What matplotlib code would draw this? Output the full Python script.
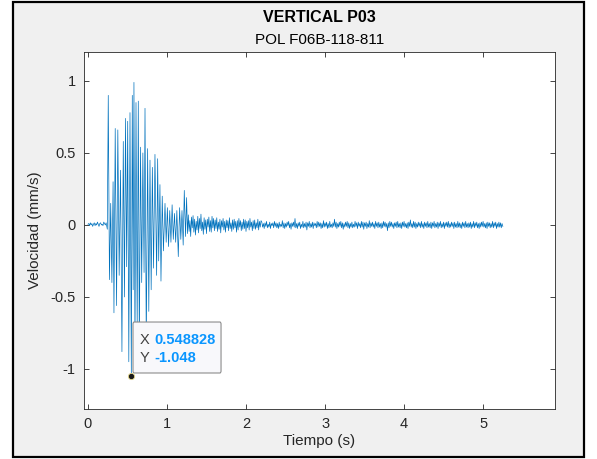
import numpy as np
import matplotlib
matplotlib.use("Agg")
import matplotlib.pyplot as plt
from matplotlib.patches import Rectangle, FancyBboxPatch

plt.rcParams['font.family'] = ['Liberation Sans', 'DejaVu Sans']
plt.rcParams['axes.unicode_minus'] = False

TITLE = "VERTICAL P03"
SUBTITLE = "POL F06B-118-811"
XLABEL = "Tiempo (s)"
YLABEL = "Velocidad (mm/s)"
X_TICKS = [0, 1, 2, 3, 4, 5]
Y_TICKS = [-1, -0.5, 0, 0.5, 1]
Y_TICKLABELS = ["-1", "-0.5", "0", "0.5", "1"]

# pre-event noise, 0 .. 0.23 s (values in 1/1000 mm/s, dt = 0.01 s)
pre_start = 0.0
pre_dt = 0.01
pre_mv = [5, 10, -5, 15, 0, 10, -10, 5, 15, -5, 10, 0, 20, 5, -10, 10,
          15, 0, 5, -5, 20, 10, 0, 15]

# main burst, extrema
burst_t = [0.245, 0.257, 0.272, 0.288, 0.303, 0.318, 0.329, 0.345, 0.362, 0.378,
           0.395, 0.412, 0.430, 0.447, 0.462, 0.475, 0.490, 0.503, 0.517, 0.532,
           0.548828, 0.561, 0.572, 0.582, 0.595, 0.608, 0.623, 0.637, 0.650, 0.665,
           0.680, 0.695, 0.710, 0.722, 0.738, 0.755, 0.770, 0.785, 0.800, 0.815,
           0.830, 0.848, 0.869, 0.882, 0.895, 0.911, 0.924, 0.940, 0.955, 0.975,
           0.990, 1.005, 1.020, 1.035, 1.050, 1.065, 1.080, 1.095, 1.110, 1.125,
           1.143, 1.160, 1.175, 1.190, 1.205, 1.219, 1.235, 1.248]
burst_v = [-0.03, 0.90, -0.38, 0.15, -0.40, 0.30, -0.61, 0.67, -0.56, 0.66,
           -0.35, 0.38, -0.88, 0.58, -0.50, 0.74, -0.29, 0.72, -0.95, 0.78,
           -1.048, 0.90, -0.45, 0.99, -0.89, 0.85, -0.72, 0.86, -0.90, 0.54,
           -0.40, 0.50, -0.33, 0.81, -0.85, 0.53, -0.60, 0.45, -0.45, 0.40,
           -0.30, 0.49, -0.35, 0.46, -0.25, 0.28, -0.39, 0.20, -0.18, 0.15,
           -0.12, 0.12, -0.15, 0.10, -0.12, 0.14, -0.10, 0.08, -0.12, 0.10,
           -0.22, 0.12, -0.10, 0.10, -0.14, 0.24, -0.08, 0.19]

# coda, 1.26 s onwards (1/1000 mm/s, dt = 0.01 s)
tail_start = 1.26
tail_dt = 0.01
coda_a = [-60, 70, -45, 30, -80, 55, -20, 65, -50, 40, -70, 25, -35, 60, -55, 45,
          -25, 75, -40, 20, -65, 50, -30, 35, -60, 40, -15, 55, -45, 30, -50, 60,
          -20, 45]
coda_b = [-40, 35, -25, 50, -45, 20, -30, 40, -55, 30, -15, 45, -35, 25, -50, 35,
          -20, 30, -40, 50, -25, 15, -45, 35, -30, 40, -20, 25, -50, 30,
          -35, 45, -15, 30, -40, 20, -30, 40, -25, 35, -45, 25, -20, 30, -35, 45,
          -15, 20, -40, 30, -25, 35, -30, 15, -20, 40, -35, 25, -15, 30]
coda_c = [20, -15, 10, -25, 15, -10, 25, -20, 5, -15, 20, -25, 10, -5, 15, -20, 25, -10, 15, -20,
          10, -25, 20, -15, 5, -10, 30, -20, 15, -25, 10, -15, 20, -5, 25, -20, 10, -30, 15, -10,
          20, -15, 45, -20, 10, -25, 15, -10, 20, -25, 5, -15, 25, -20, 10, -15, 20, -35, 15, -10,
          25, -20, 10, -15, 20, -25, 15, -5, 10, -20, 25, -15, 20, -10, 15, -25, 10, -20, 30, -15,
          15, -10, 20, -25, 10, -20, 25, -15, 5, -20, 15, -10, 40, -15, 20, -25, 10, -15, 20, -10,
          25, -20, 15, -30, 10, -15, 20, -10, 25, -20, 15, -25, 10, -15, 20, -20, 5, -15, 25, -10,
          15, -25, 20, -10, 10, -20, 25, -15, 20, -30, 15, -10, 20, -25, 10, -15, 30, -20, 15, -10,
          20, -15, 10, -25, 25, -10, 15, -20, 20, -15, 10, -25, 15, -20, 25, -10, 20, -15, 10, -40,
          15, -20, 25, -10, 20, -15, 10, -25, 15, -10, 20, -20, 25, -15, 10, -20, 15, -25, 20, -10,
          25, -15, 10, -20, 15, -25, 20, -10, 35, -15, 10, -20, 25, -15, 20, -25, 10, -15, 20, -10,
          15, -20, 25, -15, 10, -25, 20, -10, 15, -20, 25, -15, 10, -20, 20, -25, 15, -10, 25, -20,
          10, -15, 20, -25, 15, -10, 25, -20, 10, -15, 20, -25, 15, -10, 20, -15, 25, -20, 10, -15,
          20, -10, 15, -25, 20, -15, 10, -20, 25, -15, 15, -20, 10, -25, 20, -10, 15, -20, 25, -15,
          10, -20, 15, -15, 20, -25, 10, -15, 25, -20, 15, -10, 20, -20, 10, -25, 15, -15, 20, -10,
          25, -15, 10, -20, 15, -25, 20, -10, 15, -20, 10, -15, 25, -20, 15, -10, 20, -25, 10, -15,
          20, -15, 15, -20, 10, -10]

tip_x = 0.548828
tip_y = -1.048


def build_trace():
    pre_t = pre_start + pre_dt * np.arange(len(pre_mv))
    tail = coda_a + coda_b + coda_c
    tail_t = tail_start + tail_dt * np.arange(len(tail))
    t = np.concatenate([pre_t, burst_t, tail_t])
    v = np.concatenate([np.array(pre_mv) / 1000.0, burst_v, np.array(tail) / 1000.0])
    return t, v


def main():
    W, H = 597, 459
    fig = plt.figure(figsize=(W / 100, H / 100), dpi=100)
    fig.patch.set_facecolor("white")
    # grey figure panel with black frame
    fig.patches.append(Rectangle((13 / W, 2 / H), 571 / W, 455 / H,
                                 transform=fig.transFigure, facecolor="#f0f0f0",
                                 edgecolor="black", linewidth=1.6, zorder=-10))

    ax = fig.add_axes([84 / W, 1 - 409 / H, 471 / W, 357 / H])
    ax.set_zorder(1)
    t, v = build_trace()
    ax.plot(t, v, color="#0072BD", linewidth=0.5)

    ax.set_xlim(-0.05, 5.91)
    ax.set_ylim(-1.278, 1.201)
    ax.set_xticks(X_TICKS)
    ax.set_yticks(Y_TICKS)
    ax.set_yticklabels(Y_TICKLABELS)
    ax.tick_params(direction="in", length=3.5, width=0.6, top=True, right=True,
                   labelsize=10.5, colors="#262626", pad=6)
    for s in ax.spines.values():
        s.set_color("#262626")
        s.set_linewidth(0.6)

    ax.set_xlabel(XLABEL, fontsize=11, color="#262626", labelpad=2)
    ax.set_ylabel(YLABEL, fontsize=11, color="#262626", labelpad=6)
    fig.text(319.5 / W, 1 - 17 / H, TITLE, ha="center", va="center",
             fontsize=11.5, fontweight="bold", color="black")
    fig.text(319.5 / W, 1 - 40 / H, SUBTITLE, ha="center", va="center",
             fontsize=11, color="black")

    # data tip
    x0, x1 = 0.57, 1.684
    y0, y1 = -1.028, -0.674
    ax.add_patch(FancyBboxPatch((x0, y0), x1 - x0, y1 - y0,
                                boxstyle="round,pad=0,rounding_size=0.015",
                                facecolor="#f8f8fb", edgecolor="#8c8c8c",
                                linewidth=0.8, zorder=5))
    ax.plot([tip_x], [tip_y], "o", markersize=4.5, markerfacecolor="#1a1a1a",
            markeredgecolor="#e6d98a", markeredgewidth=0.6, zorder=6)
    ax.text(0.655, -0.80, "X", fontsize=10.5, color="#404040", va="center", zorder=7)
    ax.text(0.835, -0.80, f"{tip_x:g}", fontsize=10.5, color="#0a96ff",
            fontweight="bold", va="center", zorder=7)
    ax.text(0.655, -0.925, "Y", fontsize=10.5, color="#404040", va="center", zorder=7)
    ax.text(0.835, -0.925, f"{tip_y:g}", fontsize=10.5, color="#0a96ff",
            fontweight="bold", va="center", zorder=7)

    fig.savefig("out.png", dpi=100)


if __name__ == "__main__":
    main()
